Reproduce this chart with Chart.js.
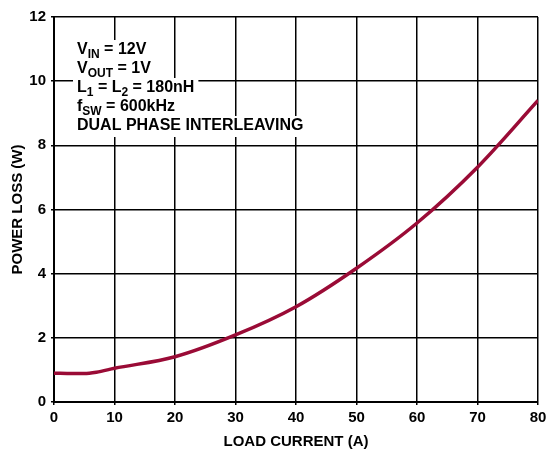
<!DOCTYPE html>
<html>
<head>
<meta charset="utf-8">
<script src="https://cdn.jsdelivr.net/npm/chart.js@4/dist/chart.umd.min.js"></script>
<style>
  html, body { margin: 0; padding: 0; background: #fff; }
  #wrap { width: 558px; height: 451px; }
</style>
</head>
<body>
<div id="wrap"><canvas id="lossChart"></canvas></div>
<script>
'use strict';

// values
var loadCurrent = [0, 3, 5, 7, 10, 20, 30, 40, 50, 60, 70, 80]
var powerLoss = [0.90, 0.89, 0.89, 0.93, 1.05, 1.41, 2.09, 2.97, 4.17, 5.58, 7.32, 9.40]

var xTicks = [0, 10, 20, 30, 40, 50, 60, 70, 80]
var yTicks = [0, 2, 4, 6, 8, 10, 12]

// condition notes, [text, kind] pieces
var noteLines = [
    [['V', ''], ['IN', 'sub'], [' = 12V', '']],
    [['V', ''], ['OUT', 'sub'], [' = 1V', '']],
    [['L', ''], ['1', 'sub'], [' = L', ''], ['2', 'sub'], [' = 180nH', '']],
    [['f', ''], ['SW', 'sub'], [' = 600kHz', '']],
    [['DUAL PHASE INTERLEAVING', '']]
]

var lineColor = '#9a0b36'
var fontFamily = '"Liberation Sans", Arial, sans-serif'

var points = loadCurrent.map(function (x, i) { return { x: x, y: powerLoss[i] } })

var notesPlugin = {
    id: 'notes',
    afterDatasetsDraw: function (chart) {
        let ctx = chart.ctx
        let left = 77
        let top = 50
        let step = 19
        let mainFont = 'bold 16px ' + fontFamily
        let subFont = 'bold 12px ' + fontFamily
        ctx.save()
        ctx.textBaseline = 'middle'
        for (let i = 0; i < noteLines.length; i++) {
            let y = top + i * step
            let w = 0
            for (let p of noteLines[i]) {
                ctx.font = p[1] == 'sub' ? subFont : mainFont
                w += ctx.measureText(p[0]).width
            }
            ctx.fillStyle = '#fff'
            ctx.fillRect(left - 4, y - 10, w + 8, 21)
            let x = left
            ctx.fillStyle = '#000'
            for (let p of noteLines[i]) {
                if (p[1] == 'sub') {
                    ctx.font = subFont
                    ctx.fillText(p[0], x, y + 5)
                } else {
                    ctx.font = mainFont
                    ctx.fillText(p[0], x, y)
                }
                x += ctx.measureText(p[0]).width
            }
        }
        ctx.restore()
    }
}

new Chart(document.getElementById('lossChart'), {
    type: 'line',
    data: {
        datasets: [{
            data: points,
            borderColor: lineColor,
            borderWidth: 3.5,
            pointRadius: 0,
            fill: false,
            cubicInterpolationMode: 'monotone'
        }]
    },
    options: {
        responsive: true,
        maintainAspectRatio: false,
        animation: false,
        layout: { padding: { top: 17, right: 20, left: 0, bottom: 0 } },
        plugins: { legend: { display: false }, tooltip: { enabled: false } },
        scales: {
            x: {
                type: 'linear',
                min: 0,
                max: 80,
                afterBuildTicks: function (s) { s.ticks = xTicks.map(function (v) { return { value: v } }) },
                afterFit: function (s) { s.height = 49 },
                grid: { color: '#000', lineWidth: 1.5, tickLength: 3 },
                border: { color: '#000', width: 2 },
                ticks: { color: '#000', font: { family: fontFamily, size: 15, weight: 'bold' }, padding: 4, maxRotation: 0 },
                title: { display: true, text: 'LOAD CURRENT (A)', color: '#000', font: { family: fontFamily, size: 15, weight: 'bold' }, padding: { top: 2, bottom: 0 } }
            },
            y: {
                min: 0,
                max: 12,
                afterBuildTicks: function (s) { s.ticks = yTicks.map(function (v) { return { value: v } }) },
                afterFit: function (s) { s.width = 54 },
                grid: { color: '#000', lineWidth: 1.5, tickLength: 3 },
                border: { color: '#000', width: 2 },
                ticks: { color: '#000', font: { family: fontFamily, size: 15, weight: 'bold' }, padding: 5 },
                title: { display: true, text: 'POWER LOSS (W)', color: '#000', font: { family: fontFamily, size: 15, weight: 'bold' }, padding: { top: 9, bottom: 0 } }
            }
        }
    },
    plugins: [notesPlugin]
})
</script>
</body>
</html>
